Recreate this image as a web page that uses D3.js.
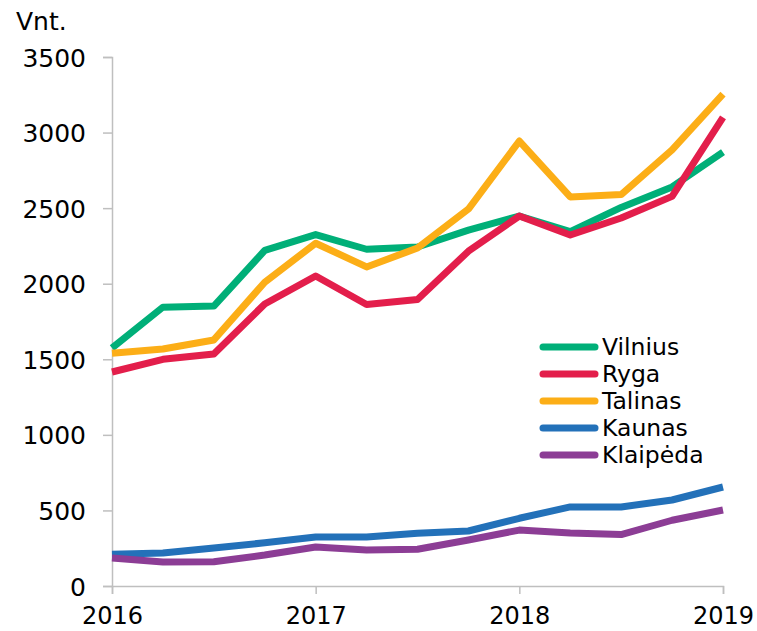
<!DOCTYPE html>
<html>
<head>
<meta charset="utf-8">
<script src="https://cdn.jsdelivr.net/npm/d3@7"></script>
<style>
  body { margin: 0; background: #fff; }
  text { font-family: Verdana, "DejaVu Sans", sans-serif; fill: #000; }
</style>
</head>
<body>
<div id="chart"></div>
<script>
// quarterly values, 2016 Q1 .. 2019 Q1
var quarters = [2016, 2016.25, 2016.5, 2016.75, 2017, 2017.25, 2017.5, 2017.75, 2018, 2018.25, 2018.5, 2018.75, 2019];
var vilnius  = [1575, 1845, 1852, 2220, 2325, 2228, 2243, 2355, 2448, 2345, 2505, 2640, 2870];
var ryga     = [1416, 1500, 1535, 1866, 2051, 1862, 1895, 2215, 2448, 2322, 2435, 2578, 3100];
var talinas  = [1540, 1568, 1628, 2010, 2268, 2111, 2236, 2494, 2944, 2574, 2590, 2885, 3255];
var kaunas   = [210, 218, 251, 286, 324, 324, 349, 364, 448, 523, 523, 569, 655];
var klaipeda = [185, 159, 160, 205, 258, 238, 243, 304, 370, 351, 340, 435, 503];
var seriesNames  = ["Vilnius", "Ryga", "Talinas", "Kaunas", "Klaipėda"];
var seriesColors = ["#00af78", "#e31e4b", "#fcae17", "#2371b9", "#8c3d95"];
var yTicks = [0, 500, 1000, 1500, 2000, 2500, 3000, 3500];
var xTicks = [2016, 2017, 2018, 2019];

var allSeries = [vilnius, ryga, talinas, kaunas, klaipeda];

var w = 757, h = 631;
var svg = d3.select("#chart").append("svg")
    .attr("width", w)
    .attr("height", h);

var x = d3.scaleLinear().domain([2016, 2019]).range([112, 723]);
var y = d3.scaleLinear().domain([0, 3500]).range([586, 57]);

// y axis
var yAxis = svg.append("g")
    .attr("transform", "translate(112,0)")
    .call(d3.axisLeft(y).tickValues(yTicks).tickSize(9).tickPadding(17).tickFormat(d3.format("d")));
yAxis.selectAll("line, path").attr("stroke", "#bfbfbf").attr("stroke-width", 1.5);
yAxis.selectAll("text").style("font-size", "25px").attr("dy", "0.36em");

// x axis
var xAxis = svg.append("g")
    .attr("transform", "translate(0,586)")
    .call(d3.axisBottom(x).tickValues(xTicks).tickSize(8).tickPadding(13).tickFormat(d3.format("d")));
xAxis.selectAll("line, path").attr("stroke", "#bfbfbf").attr("stroke-width", 1.5);
xAxis.selectAll("text").style("font-size", "24px");

svg.append("text")
    .attr("x", 16)
    .attr("y", 30)
    .style("font-size", "25px")
    .text("Vnt.");

var line = d3.line()
    .x(function(d, i) { return x(quarters[i]); })
    .y(function(d) { return y(d); });

svg.selectAll(".series")
    .data(allSeries)
    .enter()
    .append("path")
    .attr("class", "series")
    .attr("d", line)
    .attr("fill", "none")
    .attr("stroke", function(d, i) { return seriesColors[i]; })
    .attr("stroke-width", 7)
    .attr("stroke-linejoin", "round");

// legend
var legend = svg.selectAll(".legend")
    .data(seriesNames)
    .enter()
    .append("g")
    .attr("class", "legend")
    .attr("transform", function(d, i) { return "translate(543," + (347 + i * 27) + ")"; });

legend.append("line")
    .attr("x1", 0).attr("x2", 52)
    .attr("stroke", function(d, i) { return seriesColors[i]; })
    .attr("stroke-width", 7)
    .attr("stroke-linecap", "round");

legend.append("text")
    .attr("x", 59)
    .attr("dy", "0.36em")
    .style("font-size", "23.5px")
    .text(function(d) { return d; });
</script>
</body>
</html>
